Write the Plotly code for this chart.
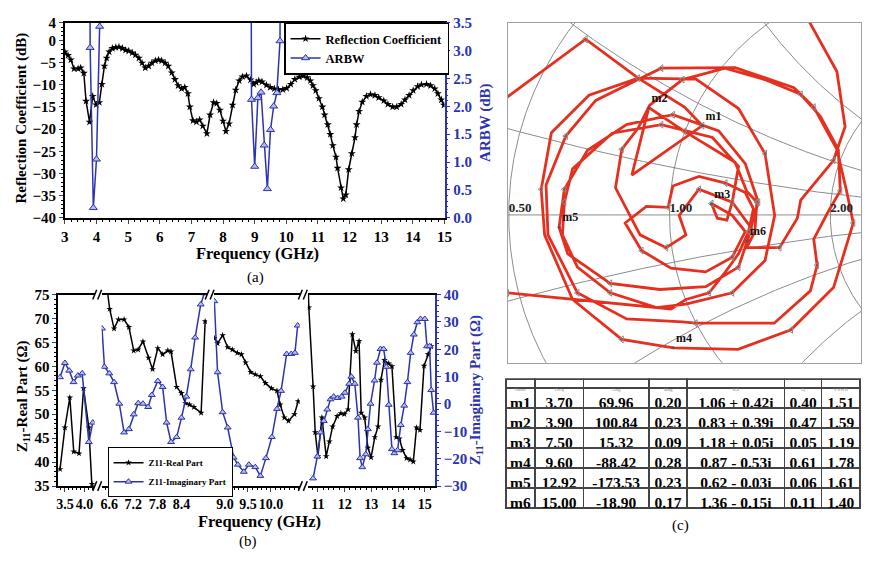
import numpy as np
import plotly.graph_objects as go

W, H = 869, 563
def px(x): return x / W
def py(y): return 1 - y / H

SERIF = "Liberation Serif"
BLUE = "#2b33b0"
LBLUE = "#b9bde6"
RED = "#e5301f"

# ---------------- (a) Reflection coefficient & ARBW ----------------
RC_FREQ = [3.0, 3.1, 3.19, 3.29, 3.42, 3.5, 3.6, 3.67, 3.78, 3.88, 3.99, 4.09, 4.17, 4.25, 4.32, 4.4,
           4.5, 4.61, 4.71, 4.82, 4.92, 5.02, 5.13, 5.23, 5.34, 5.44, 5.54, 5.65, 5.75, 5.86, 5.96,
           6.06, 6.17, 6.27, 6.38, 6.48, 6.58, 6.69, 6.79, 6.89, 6.95, 7.05, 7.16, 7.26, 7.36, 7.49,
           7.59, 7.7, 7.8, 7.9, 8.0, 8.09, 8.19, 8.3, 8.4, 8.51, 8.61, 8.74, 8.87, 8.97, 9.05, 9.13,
           9.23, 9.37, 9.49, 9.62, 9.75, 9.89, 10.01, 10.14, 10.27, 10.41, 10.53, 10.66, 10.76, 10.84,
           10.93, 11.03, 11.14, 11.21, 11.31, 11.39, 11.47, 11.57, 11.62, 11.73, 11.8, 11.88, 11.97,
           12.07, 12.17, 12.22, 12.3, 12.4, 12.53, 12.66, 12.8, 12.92, 13.08, 13.21, 13.36, 13.49,
           13.63, 13.75, 13.88, 14.01, 14.15, 14.27, 14.43, 14.56, 14.69, 14.79, 14.9, 14.98]
RC_DB = [-2.6, -3.4, -4.4, -6.4, -6.4, -6.2, -7.4, -13.7, -18.4, -12.6, -14.5, -14.0, -9.9, -5.8, -4.0, -2.6,
         -1.8, -1.6, -1.5, -1.8, -2.2, -2.4, -2.8, -3.3, -4.0, -5.1, -6.2, -5.8, -5.1, -4.6, -4.4,
         -4.6, -5.1, -5.8, -7.3, -8.8, -10.2, -10.9, -10.6, -12.0, -15.0, -18.1, -18.4, -17.9, -19.3, -21.0,
         -16.8, -14.0, -14.2, -15.7, -18.2, -20.5, -18.8, -14.6, -11.2, -9.1, -8.2, -8.0, -8.9, -9.9, -9.5, -9.1,
         -9.35, -10.1, -10.6, -10.9, -11.1, -11.1, -10.8, -9.9, -8.8, -8.25, -8.0, -8.4, -9.1, -10.2,
         -11.3, -13.1, -15.0, -16.8, -19.0, -21.2, -23.7, -26.3, -28.8, -33.2, -35.7, -34.8, -29.1,
         -25.5, -21.9, -19.0, -16.0, -13.9, -12.6, -12.2, -12.4, -12.9, -13.6, -14.4, -15.0, -15.0,
         -14.4, -13.4, -12.4, -11.3, -10.4, -10.0, -9.9, -10.2, -10.9, -12.0, -13.4, -14.6]
ARBW_FREQ = [3.7, 3.8, 3.9, 4.0, 4.1, 4.2, 8.8, 8.9, 9.0, 9.1, 9.2, 9.3, 9.4, 9.5, 9.6, 9.7, 9.8, 9.9]
ARBW_DB = [20, 3.05, 0.18, 1.05, 3.43, 20, 20, 2.12, 0.92, 2.15, 2.25, 1.3, 0.52, 1.58, 2.0, 2.24, 3.17, 20]

# ---------------- (b) Z11 real / imaginary, four broken-axis segments ----------------
REAL_FREQ = [
    [3.375, 3.5, 3.625, 3.725, 3.86, 3.975, 4.11, 4.19, 4.22],
    [6.52, 6.61, 6.72, 6.83, 6.97, 7.09, 7.21, 7.32, 7.44, 7.58, 7.68, 7.81, 7.93, 8.06, 8.14, 8.28,
     8.40, 8.50, 8.60, 8.71, 8.89, 8.99],
    [8.77, 8.84, 8.95, 9.06, 9.16, 9.27, 9.36, 9.45, 9.56, 9.66, 9.77, 9.88, 10.01, 10.13, 10.2, 10.29,
     10.38, 10.51, 10.59],
    [10.63, 10.66, 10.82, 10.90, 11.0, 11.15, 11.31, 11.43, 11.55, 11.72, 11.86, 11.99, 12.13, 12.29,
     12.42, 12.54, 12.62, 12.75, 12.87, 12.99, 13.13, 13.25, 13.36, 13.49, 13.65, 13.77, 13.93, 14.05,
     14.17, 14.32, 14.45, 14.57, 14.69, 14.82, 14.97, 15.12, 15.24],
]
REAL_OHM = [
    [38.5, 47.2, 53.5, 42.2, 41.8, 55.4, 47.2, 35.4, 30.0],
    [78.0, 72.0, 67.9, 69.8, 69.8, 68.2, 63.3, 63.5, 65.2, 61.8, 59.4, 63.8, 62.5, 63.3, 63.1, 55.7,
     54.4, 52.3, 52.0, 51.5, 50.3, 69.4],
    [65.9, 64.8, 66.5, 64.0, 63.5, 62.8, 62.5, 60.8, 58.8, 58.3, 57.9, 56.5, 55.4, 54.9, 52.0, 49.3,
     48.6, 50.0, 52.7],
    [78.0, 72.3, 55.8, 46.2, 41.2, 49.3, 41.2, 44.3, 47.4, 49.6, 50.2, 50.0, 51.0, 66.7,
     63.2, 65.3, 50.3, 49.3, 43.0, 41.0, 45.2, 47.4, 57.2, 61.3, 60.6, 60.0, 45.2, 44.9,
     42.5, 40.8, 40.5, 40.1, 47.2, 46.7, 60.1, 62.5, 64.2],
]
IMAG_FREQ = [
    [3.375, 3.5, 3.61, 3.72, 3.83, 3.94, 4.11, 4.21],
    [6.42, 6.48, 6.6, 6.72, 6.85, 6.97, 7.09, 7.21, 7.32, 7.44, 7.57, 7.66, 7.81, 7.93, 8.03, 8.14,
     8.28, 8.40, 8.52, 8.63, 8.74, 8.88, 8.97],
    [8.77, 8.84, 8.95, 9.06, 9.19, 9.28, 9.41, 9.52, 9.66, 9.77, 9.89, 10.02, 10.13, 10.22, 10.34,
     10.44, 10.52, 10.58],
    [10.82, 10.98, 11.10, 11.22, 11.35, 11.47, 11.59, 11.74, 11.89, 12.01, 12.17, 12.25, 12.38, 12.50,
     12.58, 12.66, 12.79, 12.87, 12.97, 13.12, 13.21, 13.34, 13.46, 13.56, 13.65, 13.77, 13.86, 13.98,
     14.10, 14.23, 14.35, 14.47, 14.59, 14.72, 14.84, 15.0, 15.08, 15.18, 15.24, 15.33],
]
IMAG_OHM = [
    [9.8, 15.0, 12.2, 8.0, 10.4, 11.2, -13.9, -6.8],
    [27.6, 13.6, 11.2, 8.0, 0.1, -10.4, -9.2, -3.8, 0.3, 0.1, -1.1, 3.3, 8.4, 6.2, -6.8, -13.9,
     -12.1, -5.0, 2.7, 12.7, 24.3, 36.4, 40.5],
    [37.6, 11.6, -3.0, -8.6, -19.6, -22.2, -24.8, -22.2, -23.1, -26.3, -19.8, -12.1, -1.8, 4.8, 18.3,
     18.3, 18.7, 28.7],
    [-27.2, -19.2, -10.4, -6.2, -2.0, 1.7, 2.7, 2.2, 2.7, 4.1, 7.4, 10.0, 7.4, -5.0,
     -19.8, -23.1, -18.4, -9.2, 0.1, 8.6, 15.1, 20.1, 20.1, 13.6, -0.3, -16.5, -18.0, -16.9,
     -7.7, -0.6, 8.0, 18.7, 25.4, 29.9, 31.1, 31.1, 21.1, 21.1, 5.1, -3.2],
]
SEG_TICKS = [[3.5, 4.0], [6.6, 7.2, 7.8, 8.4], [9.0, 9.5, 10.0], [11, 12, 13, 14, 15]]
SEG_LABELS = [["3.5", "4.0"], ["6.6", "7.2", "7.8", "8.4"], ["9.0", "9.5", "10.0"], ["11", "12", "13", "14", "15"]]

# ---------------- (c) Smith chart trajectory (reflection coefficient) -------
SMITH_RE = [-0.450, -0.174, -0.065, 0.031, 0.068, -0.078, -0.043, 0.031, 0.136, 0.160, 0.181, 0.177, 0.160,
            0.228, 0.265, 0.272, 0.340, 0.364, 0.347, 0.286, 0.252,
            0.06, -0.55, -0.70, -0.45,
            -0.337, 0.003, 0.034, 0.082, 0.116, 0.143, 0.164, 0.174, 0.157, 0.116, 0.061, 0.007, -0.003,
            -0.048, -0.092, -0.058, 0.003, 0.075, 0.130, 0.157, 0.130, 0.087, 0.099, 0.119, 0.130, 0.143,
            0.089, -0.017, -0.119, -0.201, -0.218, -0.222, -0.191, -0.123, -0.027, 0.034,
            0.130, 0.198, 0.218, 0.198, 0.143, 0.055, -0.065, -0.167, -0.245, -0.266, -0.259, -0.201,
            -0.099, 0.008, 0.142, 0.252, 0.340, 0.354, 0.381, 0.367, 0.347, 0.299, 0.258, 0.136, -0.017,
            -0.065, -0.153, -0.215, -0.256, -0.252, -0.191, -0.089, 0.027, 0.054, 0.217, 0.292, 0.306,
            0.299, 0.327, 0.354, 0.350, 0.313, 0.272, 0.197, 0.115, 0.027,
            -0.041, -0.065, -0.099, -0.112, -0.061, -0.007, 0.034, 0.020,
            0.061, 0.130, 0.170, 0.143, 0.075, -0.020, -0.123, -0.211, -0.229, -0.218, -0.170, -0.089,
            0.007, 0.102, 0.157, 0.184, 0.161]
SMITH_IM = [0.163, 0.370, 0.288, 0.227, 0.188, 0.084, 0.226, 0.176, 0.111, 0.050, 0.027, -0.035, -0.069,
            -0.069, -0.007, 0.031, 0.115, 0.186, 0.302, 0.411, 0.476,
            0.66, 0.57, -0.04, -0.15,
            -0.164, -0.198, -0.178, -0.164, -0.120, -0.082, -0.035, 0.013, 0.047, 0.067, 0.081, 0.061, 0.016,
            0.018, -0.017, -0.075, -0.112, -0.120, -0.089, -0.035, -0.001, 0.024, -0.007, -0.011, 0.027, 0.102,
            0.163, 0.190, 0.172, 0.097, 0.027, -0.042, -0.110, -0.164, -0.195, -0.188,
            -0.164, -0.096, -0.001, 0.129, 0.224, 0.286, 0.288, 0.252, 0.173, 0.054, -0.042, -0.178,
            -0.262, -0.280, -0.283, -0.242, -0.153, -0.106, -0.017, 0.051, 0.138, 0.227, 0.268, 0.310, 0.309,
            0.285, 0.241, 0.166, 0.063, -0.042, -0.164, -0.219, -0.225, -0.228, -0.228, -0.160, -0.106,
            -0.051, 0.003, 0.051, 0.138, 0.207, 0.254, 0.285, 0.309, 0.285,
            0.231, 0.183, 0.138, 0.057, -0.042, -0.069, -0.042, -0.001,
            0.054, 0.027, -0.028, -0.110, -0.151, -0.157, -0.144, -0.082, -0.026, 0.054, 0.136, 0.190,
            0.211, 0.177, 0.108, 0.027, -0.055]
SMITH_R_CIRCLES = [0.5, 1.0, 2.0]
SMITH_X_ARCS = [0.2, 0.5, 1.0, 2.0]
SMITH_R_LABELS = ["0.50", "1.00", "2.00"]

# ---------------- (c) marker table ----------------
TABLE_HEADERS = ["Name", "Freq", "Ang", "Mag", "RX", "Q", "VSWR"]
MARKER_NAMES = ["m1", "m2", "m3", "m4", "m5", "m6"]
MARKER_FREQ = [3.70, 3.90, 7.50, 9.60, 12.92, 15.00]
MARKER_ANG = [69.96, 100.84, 15.32, -88.42, -173.53, -18.90]
MARKER_MAG = [0.20, 0.23, 0.09, 0.28, 0.23, 0.17]
MARKER_RX = ["1.06 + 0.42i", "0.83 + 0.39i", "1.18 + 0.05i", "0.87 - 0.53i", "0.62 - 0.03i", "1.36 - 0.15i"]
MARKER_Q = [0.40, 0.47, 0.05, 0.61, 0.06, 0.11]
MARKER_VSWR = [1.51, 1.59, 1.19, 1.78, 1.61, 1.40]

fig = go.Figure()

# ---- panel (a) traces
fig.add_trace(go.Scatter(x=RC_FREQ, y=RC_DB, name="Reflection Coefficient", mode="lines+markers",
                         line=dict(color="black", width=1.5),
                         marker=dict(symbol="star", size=6, color="black"),
                         xaxis="x", yaxis="y", legend="legend"))
fig.add_trace(go.Scatter(x=ARBW_FREQ, y=ARBW_DB, name="ARBW", mode="lines+markers",
                         line=dict(color=BLUE, width=1.5),
                         marker=dict(symbol="triangle-up", size=7, color=LBLUE, line=dict(color=BLUE, width=1)),
                         xaxis="x", yaxis="y2", legend="legend"))

# ---- panel (b) traces
for k in range(4):
    xa = f"x{k + 2}"
    fig.add_trace(go.Scatter(x=REAL_FREQ[k], y=REAL_OHM[k], name="Z11-Real Part", mode="lines+markers",
                             line=dict(color="black", width=1.5),
                             marker=dict(symbol="star", size=5, color="black"),
                             xaxis=xa, yaxis="y3", legend="legend2", showlegend=(k == 0)))
for k in range(4):
    xa = f"x{k + 2}"
    fig.add_trace(go.Scatter(x=IMAG_FREQ[k], y=IMAG_OHM[k], name="Z11-Imaginary Part", mode="lines+markers",
                             line=dict(color=BLUE, width=1.5),
                             marker=dict(symbol="triangle-up", size=6, color=LBLUE, line=dict(color=BLUE, width=1)),
                             xaxis=xa, yaxis="y4", legend="legend2", showlegend=(k == 0)))

# ---- panel (c): Smith chart grid
gx, gy = [], []
t = np.linspace(-np.pi / 2 + 1e-3, np.pi / 2 - 1e-3, 800)
for r in SMITH_R_CIRCLES:
    z = r + 1j * np.tan(t)
    g = (z - 1) / (z + 1)
    gx += list(g.real) + [None]
    gy += list(g.imag) + [None]
rr = np.concatenate([np.linspace(0, 5, 600), np.logspace(np.log10(5.01), 3, 200)])
for xv in SMITH_X_ARCS:
    for s in (1, -1):
        z = rr + 1j * s * xv
        g = (z - 1) / (z + 1)
        gx += list(g.real) + [None]
        gy += list(g.imag) + [None]
gx += [-1, 1]
gy += [0, 0]
fig.add_trace(go.Scatter(x=gx, y=gy, mode="lines", line=dict(color="#8c8c8c", width=1),
                         xaxis="x6", yaxis="y5", showlegend=False, hoverinfo="skip"))

fig.add_trace(go.Scatter(x=SMITH_RE, y=SMITH_IM, mode="lines", line=dict(color=RED, width=2.8),
                         xaxis="x6", yaxis="y5", showlegend=False))
idx = list(range(1, len(SMITH_RE), 3))
fig.add_trace(go.Scatter(x=[SMITH_RE[i] for i in idx], y=[SMITH_IM[i] for i in idx], mode="markers",
                         marker=dict(symbol="triangle-left-open", size=6, color="#8a8a8a", line=dict(width=1)),
                         xaxis="x6", yaxis="y5", showlegend=False))

lab_x = [(r - 1) / (r + 1) for r in SMITH_R_CIRCLES]
fig.add_trace(go.Scatter(x=lab_x, y=[0] * len(lab_x), mode="text", text=SMITH_R_LABELS,
                         textposition="top right",
                         textfont=dict(family=SERIF, size=13, color="#222", weight="bold"),
                         xaxis="x6", yaxis="y5", showlegend=False))
mk_x = [m * np.cos(np.radians(a)) for m, a in zip(MARKER_MAG, MARKER_ANG)]
mk_y = [m * np.sin(np.radians(a)) for m, a in zip(MARKER_MAG, MARKER_ANG)]
fig.add_trace(go.Scatter(x=mk_x, y=mk_y, mode="markers+text", text=MARKER_NAMES,
                         textposition="top right",
                         marker=dict(size=3, color="#555"),
                         textfont=dict(family=SERIF, size=12, color="#111", weight="bold"),
                         xaxis="x6", yaxis="y5", showlegend=False))

# ---- table
fig.add_trace(go.Table(
    domain=dict(x=[px(509), px(868)], y=[py(520), py(382)]),
    columnwidth=[29.3, 49.4, 66.6, 39, 99, 37.7, 39],
    header=dict(values=TABLE_HEADERS, height=9, align="center",
                font=dict(family=SERIF, size=5, color="#888"),
                line=dict(color="#444", width=1.5), fill_color="white"),
    cells=dict(values=[MARKER_NAMES,
                       [f"{v:.2f}" for v in MARKER_FREQ],
                       [f"{v:.2f}" for v in MARKER_ANG],
                       [f"{v:.2f}" for v in MARKER_MAG],
                       MARKER_RX,
                       [f"{v:.2f}" for v in MARKER_Q],
                       [f"{v:.2f}" for v in MARKER_VSWR]],
               height=20, align="center",
               font=dict(family=SERIF, size=15.5, color="black", weight="bold"),
               line=dict(color="#444", width=1.5), fill_color="white"),
))

# ---------------- layout ----------------
TICKF = dict(family=SERIF, size=15, color="black", weight="bold")
TICKFB = dict(family=SERIF, size=15, color=BLUE, weight="bold")
TICKF_B = dict(family=SERIF, size=14, color="black", weight="bold")
ax_common = dict(showgrid=False, zeroline=False, showline=True, linewidth=1.5, ticks="outside",
                 ticklen=4, tickwidth=1.2)

layout = dict(
    width=W, height=H, margin=dict(l=0, r=0, t=0, b=0),
    paper_bgcolor="white", plot_bgcolor="white",
    font=dict(family=SERIF),
    xaxis=dict(**ax_common, domain=[px(61.7), px(446.7)], range=[3, 15], dtick=1, anchor="y",
               linecolor="black", mirror=True, tickfont=TICKF, tickangle=0,
               minor=dict(ticks="outside", ticklen=2, dtick=0.2, tickcolor="black")),
    yaxis=dict(**ax_common, domain=[py(216), py(15)], range=[-40, 4],
               tickvals=[-40, -35, -30, -25, -20, -15, -10, -5, 0, 4],
               anchor="x", linecolor="black", tickfont=TICKF,
               minor=dict(ticks="outside", ticklen=2, dtick=1, tickcolor="black")),
    yaxis2=dict(**ax_common, overlaying="y", side="right", anchor="x", range=[0, 3.5], dtick=0.5,
                tickformat=".1f", linecolor=BLUE, tickcolor=BLUE, tickfont=TICKFB,
                minor=dict(ticks="outside", ticklen=2, dtick=0.1, tickcolor=BLUE)),
    yaxis3=dict(**ax_common, domain=[py(492), py(295)], range=[35, 75], dtick=5, anchor="x2",
                linecolor="black", tickfont=TICKF,
                minor=dict(ticks="outside", ticklen=2, dtick=1, tickcolor="black")),
    yaxis4=dict(**ax_common, overlaying="y3", side="right", anchor="x5", range=[-30, 40], dtick=10,
                linecolor=BLUE, tickcolor=BLUE, tickfont=TICKFB,
                minor=dict(ticks="outside", ticklen=2, dtick=2, tickcolor=BLUE)),
    xaxis6=dict(domain=[px(511), 1.0], range=[-0.335, 0.397], anchor="y5", showgrid=False, zeroline=False,
                showticklabels=False, ticks="", showline=True, mirror=True, linecolor="#a0a0a0", linewidth=1),
    yaxis5=dict(domain=[py(365), py(15)], range=[-0.311, 0.405], anchor="x6", showgrid=False, zeroline=False,
                showticklabels=False, ticks="", showline=True, mirror=True, linecolor="#a0a0a0", linewidth=1),
    legend=dict(x=px(284), y=py(15), xanchor="left", yanchor="top", bgcolor="white",
                bordercolor="black", borderwidth=1.5, tracegroupgap=0,
                font=dict(family=SERIF, size=12.5, color="black", weight="bold"), itemwidth=30),
    legend2=dict(x=px(105), y=py(452), xanchor="left", yanchor="top", bgcolor="white",
                 bordercolor="black", borderwidth=1, tracegroupgap=0,
                 font=dict(family=SERIF, size=9, color="black", weight="bold"), itemwidth=30),
)

SEG_DOM = [(55, 92), (99, 206), (213, 300), (308, 437)]
SEG_RANGE = [(3.33, 4.26), (6.41, 9.04), (8.764, 10.627), (10.62, 15.38)]
SEG_MINOR = [0.1, 0.1, 0.1, 0.2]
for k in range(4):
    layout[f"xaxis{k + 2}"] = dict(**ax_common, domain=[px(SEG_DOM[k][0]), px(SEG_DOM[k][1])],
                                   range=list(SEG_RANGE[k]), anchor="y3", linecolor="black", mirror=True,
                                   tickmode="array", tickvals=SEG_TICKS[k], ticktext=SEG_LABELS[k],
                                   tickfont=TICKF_B, tickangle=0,
                                   minor=dict(ticks="outside", ticklen=2, tickmode="linear", tick0=0,
                                              dtick=SEG_MINOR[k], tickcolor="black"))
fig.update_layout(**layout)

ann = []
def A(text, x, y, size, color="black", angle=0, bold=True):
    ann.append(dict(text=text, x=px(x), y=py(y), xref="paper", yref="paper", showarrow=False,
                    textangle=angle, xanchor="center", yanchor="middle",
                    font=dict(family=SERIF, size=size, color=color, weight="bold" if bold else "normal")))
A("Reflection Coefficient (dB)", 18, 113, 15, angle=-90)
A("ARBW (dB)", 488, 118, 15, color=BLUE, angle=-90)
A("Frequency (GHz)", 257, 253, 16.5)
A("(a)", 255, 277, 15, bold=False)
A("Z<sub>11</sub>-Real Part (Ω)", 19, 400, 15, angle=-90)
A("Z<sub>11</sub>-Imaginary Part (Ω)", 478, 393, 15, color=BLUE, angle=-90)
A("Frequency (GHz)", 259, 529, 16.5)
A("(b)", 247, 549, 15, bold=False)
A("(c)", 686, 533, 15, bold=False)
fig.update_layout(annotations=ann)

shapes = []
for k in range(3):
    c = (SEG_DOM[k][1] + SEG_DOM[k + 1][0]) / 2
    for yl in (295, 492):
        for dx in (-3.5, 1.5):
            shapes.append(dict(type="line", xref="paper", yref="paper",
                               x0=px(c + dx - 2), y0=py(yl + 5), x1=px(c + dx + 2), y1=py(yl - 5),
                               line=dict(color="black", width=1.5)))
fig.update_layout(shapes=shapes)

fig.write_html("out.html", config={"displayModeBar": False},
               post_script="document.body.style.margin='0px';document.body.style.padding='0px';")
